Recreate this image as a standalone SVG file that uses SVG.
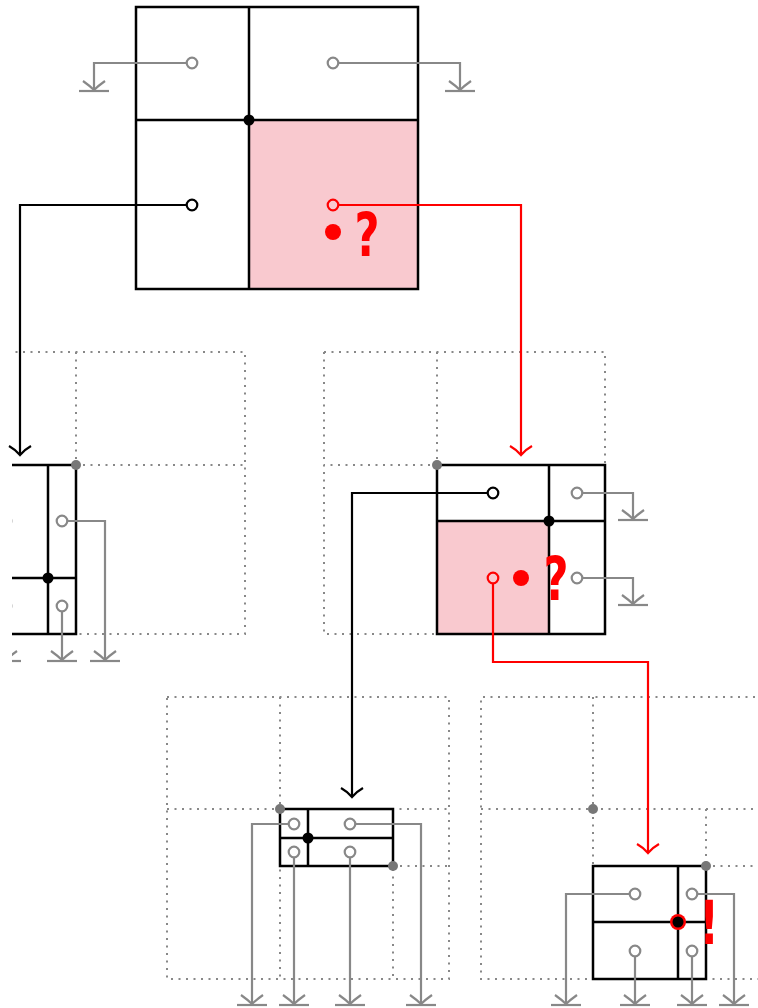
<svg xmlns="http://www.w3.org/2000/svg" xmlns:xlink="http://www.w3.org/1999/xlink" width="758" height="1008" viewBox="0 0 758 1008">
<style>
.box{fill:none;stroke:#000;stroke-width:2.5}
.pink{fill:#f9c9cf;stroke:none}
.dot{fill:none;stroke:#888;stroke-width:2;stroke-dasharray:2 5.5}
.g{fill:none;stroke:#888;stroke-width:2.2}
.k{fill:none;stroke:#000;stroke-width:2.2}
.r{fill:none;stroke:#f00;stroke-width:2.2}
.cg{fill:none;stroke:#888;stroke-width:2.2}
.ck{fill:none;stroke:#000;stroke-width:2.2}
.cr{fill:none;stroke:#f00;stroke-width:2.2}
.jn{fill:#000}
.gd{fill:#777}
.mark{font-family:"DejaVu Sans",sans-serif;font-weight:bold;font-size:60px;fill:#f00;text-anchor:middle}
</style>
<defs>
<g id="gnd" class="g"><path d="M-11,-10 Q-4,-5 0,-1 Q4,-5 11,-10"/><path d="M-15,0 H15"/></g>
<marker id="ak" markerUnits="userSpaceOnUse" markerWidth="26" markerHeight="16" refX="13" refY="13" orient="0" viewBox="0 0 26 16"><path d="M2,4 Q9,8 13,13 Q17,8 24,4" fill="none" stroke="#000" stroke-width="2.2"/></marker>
<marker id="ar" markerUnits="userSpaceOnUse" markerWidth="26" markerHeight="16" refX="13" refY="13" orient="0" viewBox="0 0 26 16"><path d="M2,4 Q9,8 13,13 Q17,8 24,4" fill="none" stroke="#f00" stroke-width="2.2"/></marker>
<clipPath id="clipL"><rect x="12" y="0" width="746" height="1008"/></clipPath>
</defs>

<g id="node-top">
<rect class="pink" x="249" y="120" width="169" height="169"/>
<rect class="box" x="136" y="7" width="282" height="282"/>
<path class="box" d="M249,7 V289 M136,120 H418"/>
<circle class="jn" cx="249" cy="120" r="5.5"/>
<circle class="cg" cx="192" cy="63" r="5.3"/>
<circle class="cg" cx="333" cy="63" r="5.3"/>
<circle class="ck" cx="192" cy="205" r="5.3"/>
<circle class="cr" cx="333" cy="205" r="5.3"/>
<circle fill="#f00" cx="333" cy="232" r="8"/>
<text class="mark" transform="translate(367,256) scale(0.72,1)">?</text>
</g>

<g id="node-midleft" clip-path="url(#clipL)">
<path class="dot" d="M-37,352 H245 V634 H76 M76,352 V465 H245"/>
<path class="box" d="M-37,465 H76 V634 H-37 M48,465 V634 M-37,578 H76"/>
<circle class="jn" cx="48" cy="578" r="5.5"/>
<circle class="gd" cx="76" cy="465" r="5"/>
<circle class="cg" cx="62" cy="521" r="5.3"/>
<circle class="cg" cx="62" cy="606" r="5.3"/>
<circle class="cg" cx="6" cy="521" r="5.3"/>
<circle class="cg" cx="6" cy="606" r="5.3"/>
<path class="g" d="M67,521 H105 V660 M62,611 V660 M6,611 V660 M1,521 H-10"/>
<use xlink:href="#gnd" x="105" y="661"/>
<use xlink:href="#gnd" x="62" y="661"/>
<use xlink:href="#gnd" x="6" y="661"/>
</g>

<g id="node-midright">
<path class="dot" d="M324,352 H605 V465 M324,352 V634 H437 M437,352 V465 H324"/>
<rect class="pink" x="437" y="521" width="112" height="113"/>
<rect class="box" x="437" y="465" width="168" height="169"/>
<path class="box" d="M549,465 V634 M437,521 H605"/>
<circle class="jn" cx="549" cy="521" r="5.5"/>
<circle class="gd" cx="437" cy="465" r="5"/>
<circle class="ck" cx="493" cy="493" r="5.3"/>
<circle class="cg" cx="577" cy="493" r="5.3"/>
<circle class="cr" cx="493" cy="578" r="5.3"/>
<circle class="cg" cx="577" cy="578" r="5.3"/>
<circle fill="#f00" cx="521" cy="578" r="8"/>
<text class="mark" transform="translate(556,600) scale(0.72,1)">?</text>
<path class="g" d="M582,493 H633 V519 M582,578 H633 V604"/>
<use xlink:href="#gnd" x="633" y="520"/>
<use xlink:href="#gnd" x="633" y="605"/>
</g>

<g id="node-botleft">
<path class="dot" d="M167,697 H449 V979 H167 Z M280,697 V979 M167,809 H449 M393,809 V979 M280,866 H449"/>
<rect fill="#fff" x="280" y="809" width="113" height="57"/>
<rect class="box" x="280" y="809" width="113" height="57"/>
<path class="box" d="M308,809 V866 M280,838 H393"/>
<circle class="jn" cx="308" cy="838" r="5.5"/>
<circle class="gd" cx="280" cy="809" r="5"/>
<circle class="gd" cx="393" cy="866" r="5"/>
<circle class="cg" cx="294" cy="824" r="5.3"/>
<circle class="cg" cx="350" cy="824" r="5.3"/>
<circle class="cg" cx="294" cy="852" r="5.3"/>
<circle class="cg" cx="350" cy="852" r="5.3"/>
<path class="g" d="M289,824 H252 V1004 M294,857 V1004 M350,857 V1004 M355,824 H421 V1004"/>
<use xlink:href="#gnd" x="252" y="1005"/>
<use xlink:href="#gnd" x="294" y="1005"/>
<use xlink:href="#gnd" x="350" y="1005"/>
<use xlink:href="#gnd" x="421" y="1005"/>
</g>

<g id="node-botright">
<path class="dot" d="M770,697 H481 V979 H770 M593,697 V979 M481,809 H770 M706,809 V979 M593,866 H770"/>
<rect fill="#fff" x="593" y="866" width="113" height="113"/>
<rect class="box" x="593" y="866" width="113" height="113"/>
<path class="box" d="M678,866 V979 M593,922 H706"/>
<circle fill="#f00" cx="678" cy="922" r="8"/>
<circle class="jn" cx="678" cy="922" r="5.5"/>
<circle class="gd" cx="593" cy="809" r="5"/>
<circle class="gd" cx="706" cy="866" r="5"/>
<circle class="cg" cx="635" cy="894" r="5.3"/>
<circle class="cg" cx="692" cy="894" r="5.3"/>
<circle class="cg" cx="635" cy="951" r="5.3"/>
<circle class="cg" cx="692" cy="951" r="5.3"/>
<text class="mark" transform="translate(709,944) scale(0.72,1)">!</text>
<path class="g" d="M630,894 H566 V1004 M635,956 V1004 M692,956 V1004 M697,894 H734 V1004"/>
<use xlink:href="#gnd" x="566" y="1005"/>
<use xlink:href="#gnd" x="635" y="1005"/>
<use xlink:href="#gnd" x="692" y="1005"/>
<use xlink:href="#gnd" x="734" y="1005"/>
</g>

<g id="connectors">
<path class="g" d="M187,63 H94 V90"/>
<use xlink:href="#gnd" x="94" y="91"/>
<path class="g" d="M338,63 H460 V90"/>
<use xlink:href="#gnd" x="460" y="91"/>
<path class="k" d="M187,205 H20 V455" marker-end="url(#ak)"/>
<path class="r" d="M338,205 H521 V455" marker-end="url(#ar)"/>
<path class="k" d="M488,493 H352 V797" marker-end="url(#ak)"/>
<path class="r" d="M493,583 V662 H648 V853" marker-end="url(#ar)"/>
</g>
</svg>
